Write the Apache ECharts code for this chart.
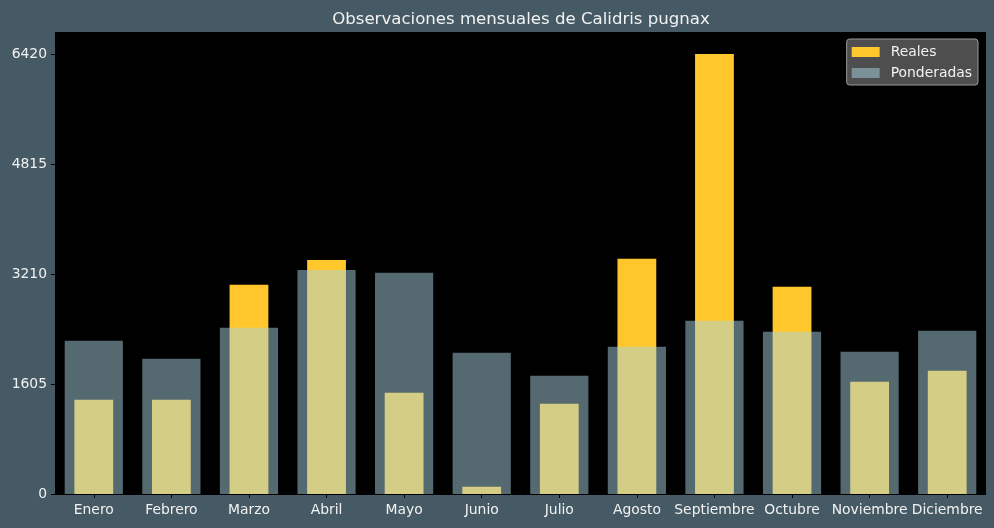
<!DOCTYPE html>
<html>
<head>
<meta charset="utf-8">
<script src="https://cdn.jsdelivr.net/npm/echarts@6/dist/echarts.min.js"></script>
<style>
html,body{margin:0;padding:0;background:#455A64;}
#chart{width:994px;height:528px;}
</style>
</head>
<body>
<div id="chart"></div>
<script>
var categories = ["Enero","Febrero","Marzo","Abril","Mayo","Junio","Julio","Agosto","Septiembre","Octubre","Noviembre","Diciembre"];
var reales = [1375, 1375, 3052, 3416, 1477, 106, 1317, 3431, 6420, 3023, 1637, 1798];
var ponderadas = [2235, 1973, 2425, 3270, 3227, 2060, 1725, 2148, 2527, 2366, 2075, 2381];
var yTicks = [0, 1605, 3210, 4815, 6420];
var yMax = 6741;

var chart = echarts.init(document.getElementById('chart'), null, {renderer: 'canvas'});
var font = 'DejaVu Sans';
chart.setOption({
  backgroundColor: '#455A64',
  animation: false,
  title: {
    text: 'Observaciones mensuales de Calidris pugnax',
    left: 516, textAlign: 'center', top: 6,
    textStyle: {color: '#f2f2f2', fontFamily: font, fontSize: 16.6, fontWeight: 'normal'}
  },
  legend: {
    orient: 'vertical', right: 16, top: 39,
    backgroundColor: 'rgba(85,85,85,0.92)', borderColor: '#999', borderWidth: 1, borderRadius: 3,
    padding: [6, 6, 5, 5], itemGap: 7, itemWidth: 28, itemHeight: 10,
    textStyle: {color: '#f2f2f2', fontFamily: font, fontSize: 13.9, padding: [0, 0, 0, 6]},
    data: [{name: 'Reales', icon: 'rect'}, {name: 'Ponderadas', icon: 'rect'}]
  },
  grid: {left: 55, right: 8, top: 32, bottom: 34, show: true, backgroundColor: '#000', borderWidth: 0},
  xAxis: [{
    type: 'category', data: categories,
    axisLine: {show: true, lineStyle: {color: '#000'}},
    axisTick: {show: true, length: 4, alignWithLabel: true, lineStyle: {color: '#000'}},
    axisLabel: {color: '#f2f2f2', fontFamily: font, fontSize: 13.9, margin: 9, interval: 0}
  }, {
    type: 'category', data: categories, show: false
  }],
  yAxis: {
    type: 'value', min: 0, max: yMax,
    splitLine: {show: false},
    axisLine: {show: false},
    axisTick: {show: true, length: 4, lineStyle: {color: '#000'}, customValues: yTicks},
    axisLabel: {color: '#f2f2f2', fontFamily: font, fontSize: 13.9, margin: 8, customValues: yTicks,
      formatter: function (v) { return String(v); }}
  },
  series: [{
    name: 'Reales', type: 'bar', xAxisIndex: 0, data: reales, barWidth: '50%',
    itemStyle: {color: '#FFC72C'}, z: 2
  }, {
    name: 'Ponderadas', type: 'bar', xAxisIndex: 1, data: ponderadas, barWidth: '75%',
    itemStyle: {color: '#AAD4E0', opacity: 0.5}, z: 3
  }]
});
</script>
</body>
</html>
